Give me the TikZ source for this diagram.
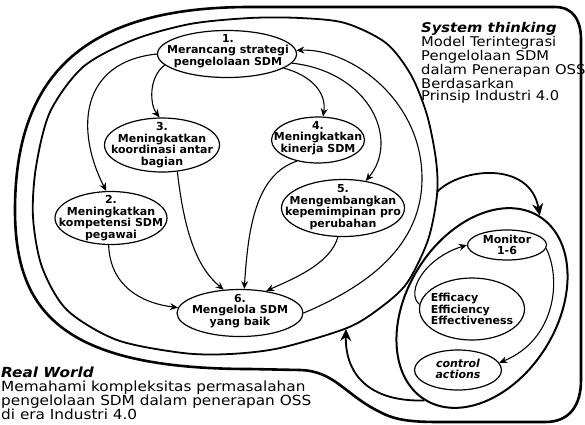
\documentclass[tikz,border=0pt]{standalone}
\usepackage{fontspec}
\setmainfont{DejaVu Sans}
\newfontfamily\widefont[FakeStretch=1.1]{DejaVu Sans}
\usetikzlibrary{arrows.meta,shapes.geometric}
\begin{document}
\begin{tikzpicture}[x=1pt,y=-1pt,
  nd/.style={draw,ellipse,line width=1.2pt,inner sep=0pt},
  ntxt/.style={font=\fontsize{11}{11.6}\selectfont\bfseries,align=center,inner sep=0pt},
  arr/.style={line width=1.1pt,-{Stealth[length=8pt,width=7pt]}},
  bigarr/.style={line width=1.8pt,-{Stealth[length=12pt,width=11pt]}},
  plain/.style={font=\widefont\fontsize{13.4}{12}\selectfont,align=left,inner sep=0pt},
]
\useasboundingbox (0,0) rectangle (585,424);

% outer "real world" boundary
\draw[line width=2.6pt,line join=round]
  (555,7) -- (250,7) .. controls (90,7) and (15,70) .. (15,210)
  .. controls (15,310) and (60,369) .. (250,369) -- (300,370)
  .. controls (335,371) and (345,395) .. (380,412)
  .. controls (395,420) and (410,422) .. (440,422) -- (545,422)
  .. controls (570,422) and (581,405) .. (581,380) -- (581,40)
  .. controls (581,20) and (573,7) .. (555,7) -- cycle;

% system boundary
\draw[line width=1.8pt] plot[smooth cycle] coordinates {
  (250,18) (300,18) (345,23) (386,43) (411,75) (427,115) (436,160) (437,195)
  (428,240) (407,283) (380,308) (347,328) (280,348) (230,354) (183,353)
  (117,340) (67,310) (42,267) (33,217) (36,167) (50,112) (83,67) (133,40) (190,24)};
\coordinate (sysR) at (437,192);
\coordinate (sysB) at (346,329);

% nodes
\node[nd,minimum width=139pt,minimum height=47pt] (n1) at (227,54) {};
\node[nd,minimum width=115pt,minimum height=54pt] (n3) at (162,145) {};
\node[nd,minimum width=112pt,minimum height=53pt] (n2) at (111,218) {};
\node[nd,minimum width=93pt,minimum height=46pt] (n4) at (318,140) {};
\node[nd,minimum width=123pt,minimum height=57pt] (n5) at (343,208) {};
\node[nd,minimum width=126pt,minimum height=47pt] (n6) at (240,313) {};

\node[ntxt] (t1) at (228,51) {1.\\Merancang strategi\\pengelolaan SDM};
\node[ntxt] (t3) at (162,145) {3.\\Meningkatkan\\koordinasi antar\\bagian};
\node[ntxt] (t2) at (111,218) {2.\\Meningkatkan\\kompetensi SDM\\pegawai};
\node[ntxt] (t4) at (318,138) {4.\\Meningkatkan\\kinerja SDM};
\node[ntxt] (t5) at (343,207) {5.\\Mengembangkan\\kepemimpinan pro\\perubahan};
\node[ntxt] (t6) at (240,311) {6.\\Mengelola SDM\\yang baik};

% control loop
\node[draw,ellipse,line width=2pt,rotate=58,minimum width=216pt,minimum height=150pt,inner sep=0pt] (ce) at (482,308) {};
\node[nd,minimum width=79pt,minimum height=30pt] (mon) at (507,245) {};
\node[nd,minimum width=105pt,minimum height=62pt] (eff) at (472,309) {};
\node[nd,minimum width=87pt,minimum height=40pt] (ctl) at (458,370) {};
\node[ntxt] (tmon) at (507,245) {Monitor\\1-6};
\node[ntxt,align=left] (teff) at (472,309) {Efficacy\\Efficiency\\Effectiveness};
\node[ntxt,font=\fontsize{11}{11.6}\selectfont\bfseries\itshape] (tctl) at (458,369) {control\\actions};

% edges in system
\draw[arr] (n1.west) .. controls (80,62) and (75,130) .. (n2.100);
\draw[arr] (n1.190) .. controls (148,78) and (150,105) .. (n3.95);
\draw[arr] (n1.346) .. controls (310,75) and (327,92) .. (n4.78);
\draw[arr] (n1.352) .. controls (370,72) and (400,140) .. (n5.50);
\draw[arr] (n6.east) .. controls (370,285) and (421,245) .. (422,180)
  .. controls (423,100) and (350,48) .. (n1.3);
\draw[arr] (n2.265) .. controls (110,285) and (140,303) .. (n6.175);
\draw[arr] (n3.300) .. controls (185,240) and (200,270) .. (n6.125);
\draw[arr] (n4.225) .. controls (255,175) and (248,230) .. (n6.80);
\draw[arr] (n5.260) .. controls (330,265) and (290,280) .. (n6.40);

% system <-> control
\draw[bigarr] (sysR) .. controls (460,168) and (530,160) .. (ce.east);
\draw[bigarr] (ce.west) .. controls (370,402) and (345,375) .. (sysB);

% inner control loop
\draw[arr] (eff.175) .. controls (405,292) and (425,258) .. (mon.west);
\draw[arr] (mon.-5) .. controls (562,280) and (555,340) .. (ctl.10);

% texts
\node[plain,anchor=north west] (st) at (421,22)
  {\textbf{\textit{System thinking}}\\Model Terintegrasi\\Pengelolaan SDM\\dalam Penerapan OSS\\Berdasarkan\\Prinsip Industri 4.0};
\node[plain,anchor=north west,font=\widefont\fontsize{13.9}{13.3}\selectfont] (rw) at (1,367)
  {\textbf{\textit{Real World}}\\Memahami kompleksitas permasalahan\\pengelolaan SDM dalam penerapan OSS\\di era Industri 4.0};
\end{tikzpicture}
\end{document}
